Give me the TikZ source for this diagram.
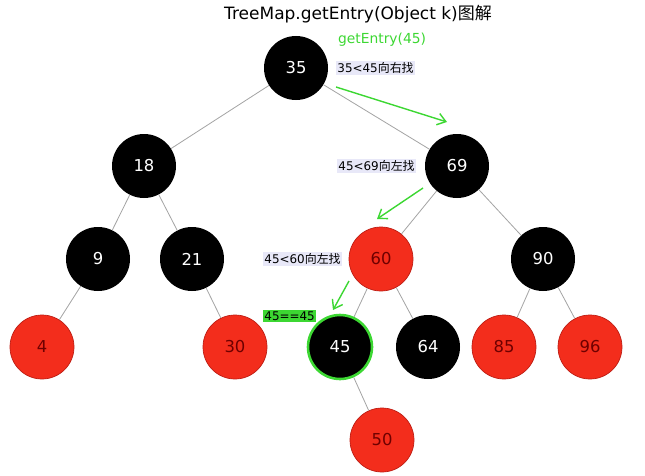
\documentclass[tikz,border=0pt]{standalone}
\usepackage{fontspec}
\setmainfont{DejaVu Sans}
\newfontfamily\cjk{Noto Sans CJK SC}
\usetikzlibrary{arrows.meta}

\definecolor{nodered}{RGB}{243,45,28}
\definecolor{rededge}{RGB}{190,30,20}
\definecolor{redtext}{RGB}{110,0,0}
\definecolor{hitgreen}{RGB}{60,215,50}
\definecolor{notebg}{RGB}{232,232,248}
\definecolor{edgegray}{RGB}{165,165,165}

\tikzset{
  blknode/.style={circle, fill=black, text=white, inner sep=0pt, minimum size=1.92cm,
    font=\fontsize{14}{16}\selectfont},
  rednode/.style={circle, fill=nodered, draw=rededge, line width=0.6pt, text=redtext,
    inner sep=0pt, minimum size=1.92cm, font=\fontsize{14}{16}\selectfont},
  note/.style={anchor=west, fill=notebg, inner sep=1pt, font=\fontsize{10.2}{12}\selectfont},
  walk/.style={hitgreen, line width=1.2pt, -{Straight Barb[length=7pt, width=10pt]}}
}

\begin{document}
\begin{tikzpicture}[x=0.03cm, y=-0.03cm]
  \useasboundingbox (0,0) rectangle (645,475);

  % === 标题 ===
  \node[font=\fontsize{14.5}{18}\selectfont] (title) at (358, 14) {TreeMap.getEntry(Object k)\cjk 图解};

  % === 树的结点（黑色 / 红色）===
  % 第 1、2 层
  \node[blknode] (n35) at (296, 68) {35};
  \node[blknode] (n18) at (144, 166) {18};
  \node[blknode] (n69) at (457, 166) {69};

  % 第 3 层
  \node[blknode] (n9)  at (98, 259)  {9};
  \node[blknode] (n21) at (192, 259) {21};
  \node[rednode] (n60) at (381, 259) {60};
  \node[blknode] (n90) at (543, 259) {90};

  % 第 4 层：45 为命中结点，绿色描边
  \node[rednode] (n4)  at (42, 347)  {4};
  \node[rednode] (n30) at (235, 347) {30};
  \node[blknode, draw=hitgreen, line width=2.2pt] (n45) at (340, 347) {45};
  \node[blknode] (n64) at (428, 347) {64};
  \node[rednode] (n85) at (504, 347) {85};
  \node[rednode] (n96) at (590, 347) {96};

  % 第 5 层
  \node[rednode] (n50) at (382, 440) {50};

  % === 父子连线（灰色细线）===
  \foreach \p/\c in {35/18, 35/69, 18/9, 18/21, 69/60, 69/90, 9/4, 21/30,
                     60/45, 60/64, 90/85, 90/96, 45/50} {
    \draw[edgegray, line width=0.7pt] (n\p) -- (n\c);
  }

  % === 查找过程说明文字 ===
  \node[anchor=west, text=hitgreen, font=\fontsize{11.8}{14}\selectfont] (call) at (334, 40) {getEntry(45)};
  \node[note] (step1) at (336, 68)  {35<45\cjk 向右找};
  \node[note] (step2) at (337, 166) {45<69\cjk 向左找};
  \node[note] (step3) at (263, 259) {45<60\cjk 向左找};
  \node[note, fill=hitgreen] (found) at (263, 316) {45==45};

  % === 绿色箭头：查找路径 ===
  \coordinate (a1) at (336, 87);
  \coordinate (b1) at (447, 122);
  \coordinate (a2) at (423, 188);
  \coordinate (b2) at (377, 219);
  \coordinate (a3) at (349, 281);
  \coordinate (b3) at (333, 310);
  \draw[walk] (a1) -- (b1);
  \draw[walk] (a2) -- (b2);
  \draw[walk] (a3) -- (b3);
\end{tikzpicture}
\end{document}
